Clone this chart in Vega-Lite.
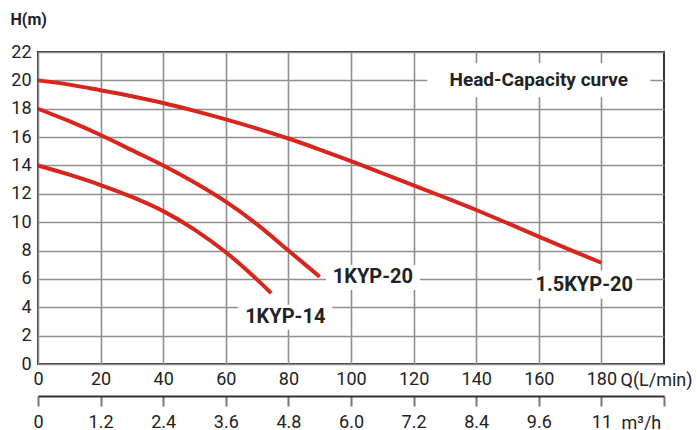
{
  "$schema": "https://vega.github.io/schema/vega-lite/v6.json",
  "autosize": {"type": "none"},
  "width": 626,
  "height": 312,
  "padding": {"left": 38, "top": 52, "right": 33, "bottom": 66},
  "background": "white",
  "config": {
    "view": {"stroke": "#333333", "strokeWidth": 2},
    "axis": {"labelFont": "Roboto", "titleFont": "Roboto", "labelColor": "#222222", "titleColor": "#222222"},
    "text": {"font": "Roboto"}
  },
  "datasets": {
    "curves": [
      {"model": "1.5KYP-20", "q": 0, "h": 20.0},
      {"model": "1.5KYP-20", "q": 10, "h": 19.7},
      {"model": "1.5KYP-20", "q": 20, "h": 19.3},
      {"model": "1.5KYP-20", "q": 30, "h": 18.88},
      {"model": "1.5KYP-20", "q": 40, "h": 18.4},
      {"model": "1.5KYP-20", "q": 50, "h": 17.85},
      {"model": "1.5KYP-20", "q": 60, "h": 17.25},
      {"model": "1.5KYP-20", "q": 70, "h": 16.6},
      {"model": "1.5KYP-20", "q": 80, "h": 15.9},
      {"model": "1.5KYP-20", "q": 90, "h": 15.12},
      {"model": "1.5KYP-20", "q": 100, "h": 14.3},
      {"model": "1.5KYP-20", "q": 110, "h": 13.45},
      {"model": "1.5KYP-20", "q": 120, "h": 12.6},
      {"model": "1.5KYP-20", "q": 130, "h": 11.74},
      {"model": "1.5KYP-20", "q": 140, "h": 10.86},
      {"model": "1.5KYP-20", "q": 150, "h": 9.93},
      {"model": "1.5KYP-20", "q": 160, "h": 8.98},
      {"model": "1.5KYP-20", "q": 170, "h": 8.05},
      {"model": "1.5KYP-20", "q": 180, "h": 7.14},
      {"model": "1KYP-20", "q": 0, "h": 18.0},
      {"model": "1KYP-20", "q": 10, "h": 17.12},
      {"model": "1KYP-20", "q": 20, "h": 16.15},
      {"model": "1KYP-20", "q": 30, "h": 15.08},
      {"model": "1KYP-20", "q": 40, "h": 14.0},
      {"model": "1KYP-20", "q": 50, "h": 12.8},
      {"model": "1KYP-20", "q": 60, "h": 11.45},
      {"model": "1KYP-20", "q": 70, "h": 9.85},
      {"model": "1KYP-20", "q": 80, "h": 8.0},
      {"model": "1KYP-20", "q": 90, "h": 6.15},
      {"model": "1KYP-14", "q": 0, "h": 14.0},
      {"model": "1KYP-14", "q": 10, "h": 13.35},
      {"model": "1KYP-14", "q": 20, "h": 12.62},
      {"model": "1KYP-14", "q": 30, "h": 11.78},
      {"model": "1KYP-14", "q": 40, "h": 10.78},
      {"model": "1KYP-14", "q": 50, "h": 9.48},
      {"model": "1KYP-14", "q": 60, "h": 7.88},
      {"model": "1KYP-14", "q": 70, "h": 5.95},
      {"model": "1KYP-14", "q": 74.5, "h": 5.0}
    ],
    "labels": [
      {"label": "Head-Capacity curve", "kind": "title", "q": 160, "h": 20.0},
      {"label": "1KYP-20", "kind": "model", "q": 107, "h": 6.1},
      {"label": "1KYP-14", "kind": "model", "q": 79, "h": 3.3},
      {"label": "1.5KYP-20", "kind": "model", "q": 174.5, "h": 5.6}
    ],
    "flow": [{"m3h": 0}, {"m3h": 12}]
  },
  "layer": [
    {
      "encoding": {
        "x": {
          "field": "q", "type": "quantitative",
          "scale": {"domain": [0, 200], "nice": false, "zero": false},
          "axis": {
            "values": [0, 20, 40, 60, 80, 100, 120, 140, 160, 180],
            "grid": true, "gridColor": "#8f8f8f", "gridWidth": 1.6, "gridOpacity": 1,
            "domain": false, "ticks": false, "tickSize": 0,
            "labelFontSize": 18, "labelPadding": 6, "labelFlush": false,
            "title": "Q(L/min)", "titleFontSize": 18, "titleFontWeight": "normal",
            "titleAlign": "left", "titleBaseline": "alphabetic", "titleX": 582, "titleY": 21
          }
        },
        "y": {
          "field": "h", "type": "quantitative",
          "scale": {"domain": [0, 22], "nice": false, "zero": false},
          "axis": {
            "values": [0, 2, 4, 6, 8, 10, 12, 14, 16, 18, 20, 22],
            "tickCount": 12,
            "grid": true, "gridColor": "#8f8f8f", "gridWidth": 1.6, "gridOpacity": 1,
            "domain": false, "ticks": false, "tickSize": 0,
            "labelFontSize": 18, "labelPadding": 7, "labelFlush": false, "labelOverlap": false,
            "title": "H(m)", "titleFontSize": 16, "titleFontWeight": "bold", "titleAngle": 0,
            "titleAlign": "left", "titleBaseline": "alphabetic", "titleX": -28, "titleY": -28
          }
        }
      },
      "layer": [
        {
          "data": {"name": "curves"},
          "mark": {"type": "line", "interpolate": "monotone", "color": "#d8261f", "strokeWidth": 4},
          "encoding": {
            "detail": {"field": "model", "type": "nominal"}
          }
        },
        {
          "data": {"name": "labels"},
          "mark": {"type": "point", "filled": true, "fill": "white", "opacity": 1, "strokeWidth": 0, "size": 10000},
          "encoding": {
            "shape": {
              "field": "label", "type": "nominal", "legend": null,
              "scale": {
                "domain": ["Head-Capacity curve", "1KYP-20", "1KYP-14", "1.5KYP-20"],
                "range": ["M-2.23,-0.34H2.23V0.34H-2.23Z", "M-0.94,-0.25H0.94V0.25H-0.94Z", "M-0.94,-0.25H0.94V0.25H-0.94Z", "M-1.04,-0.28H1.04V0.28H-1.04Z"]
              }
            }
          }
        },
        {
          "data": {"name": "labels"},
          "transform": [{"filter": "datum.kind == 'title'"}],
          "mark": {"type": "text", "fontSize": 19, "fontWeight": "bold", "color": "#222222", "align": "center", "baseline": "middle"},
          "encoding": {
            "text": {"field": "label"}
          }
        },
        {
          "data": {"name": "labels"},
          "transform": [{"filter": "datum.kind == 'model'"}],
          "mark": {"type": "text", "fontSize": 20, "fontWeight": "bold", "color": "#222222", "align": "center", "baseline": "middle"},
          "encoding": {
            "text": {"field": "label"}
          }
        }
      ]
    },
    {
      "data": {"name": "flow"},
      "mark": {"type": "point", "opacity": 0},
      "encoding": {
        "x": {
          "field": "m3h", "type": "quantitative",
          "scale": {"domain": [0, 12], "nice": false, "zero": false},
          "axis": {
            "orient": "bottom", "offset": 32,
            "values": [0, 1.2, 2.4, 3.6, 4.8, 6, 7.2, 8.4, 9.6, 10.8, 12],
            "labelExpr": "datum.value == 0 ? '0' : datum.value > 11 ? '' : datum.value > 10 ? '11' : format(datum.value, '.1f')",
            "grid": false,
            "domain": true, "domainColor": "#333333", "domainWidth": 2,
            "ticks": true, "tickSize": 10, "tickColor": "#777777", "tickWidth": 2,
            "labelFontSize": 18, "labelPadding": 7, "labelFlush": false,
            "title": "m³/h", "titleFontSize": 18, "titleFontWeight": "normal",
            "titleAlign": "left", "titleBaseline": "alphabetic", "titleX": 583, "titleY": 32
          }
        }
      }
    }
  ],
  "resolve": {"scale": {"x": "independent"}}
}
